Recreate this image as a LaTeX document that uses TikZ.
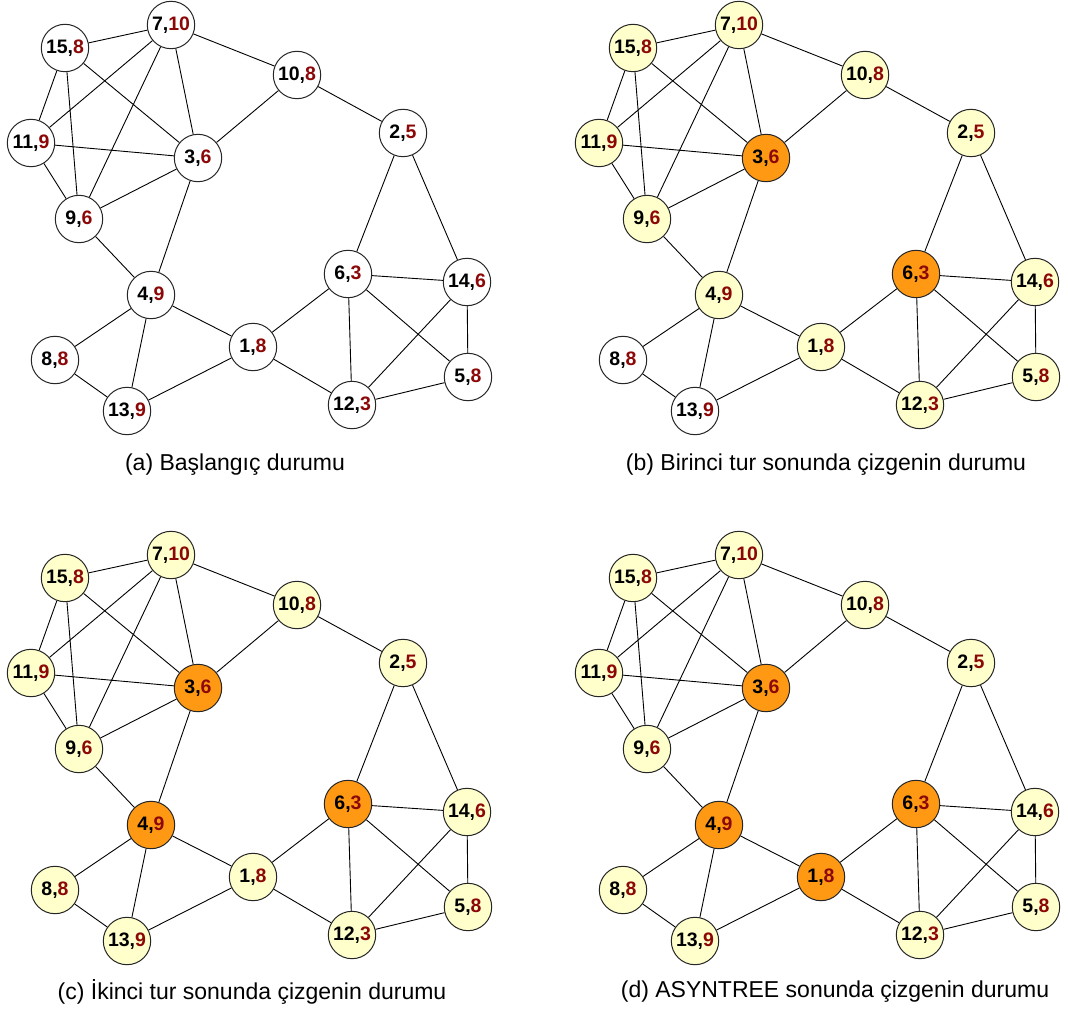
\documentclass[tikz,border=0pt]{standalone}
\usepackage{fontspec}
\setmainfont{Liberation Sans}
\definecolor{numred}{RGB}{140,8,8}
\definecolor{paleyellow}{RGB}{255,255,204}
\definecolor{hotorange}{RGB}{255,153,20}
\newcommand\lbl[2]{#1,\textcolor{numred}{#2}}
\tikzset{
  vtx/.style={circle, draw=black!85, line width=1pt, minimum size=47.4pt,
    inner sep=0pt, font=\bfseries\fontsize{19.5}{20}\selectfont},
  blank/.style={fill=white},
  pale/.style={fill=paleyellow},
  hot/.style={fill=hotorange},
  base/.style={blank},
  c1/.style={}, c2/.style={}, c3/.style={}, c4/.style={}, c5/.style={},
  c6/.style={}, c7/.style={}, c8/.style={}, c9/.style={}, c10/.style={},
  c11/.style={}, c12/.style={}, c13/.style={}, c14/.style={}, c15/.style={},
  edge/.style={draw=black, line width=0.9pt},
  caption/.style={font=\fontsize{23}{24}\selectfont, inner sep=0pt}
}
% One copy of the graph: vertices labelled "id,value", then the edges
\newcommand\drawgraph{%
  \node[vtx,base,c7]  (n7)  at (171,25)  {\lbl{7}{10}};
  \node[vtx,base,c15] (n15) at (65,48)   {\lbl{15}{8}};
  \node[vtx,base,c10] (n10) at (297,75)  {\lbl{10}{8}};
  \node[vtx,base,c11] (n11) at (31,143)  {\lbl{11}{9}};
  \node[vtx,base,c3]  (n3)  at (198,158) {\lbl{3}{6}};
  \node[vtx,base,c2]  (n2)  at (403,133) {\lbl{2}{5}};
  \node[vtx,base,c9]  (n9)  at (79,219)  {\lbl{9}{6}};
  \node[vtx,base,c4]  (n4)  at (151,295) {\lbl{4}{9}};
  \node[vtx,base,c6]  (n6)  at (348,274) {\lbl{6}{3}};
  \node[vtx,base,c14] (n14) at (467,282) {\lbl{14}{6}};
  \node[vtx,base,c8]  (n8)  at (55,360)  {\lbl{8}{8}};
  \node[vtx,base,c1]  (n1)  at (253,347) {\lbl{1}{8}};
  \node[vtx,base,c5]  (n5)  at (468,377) {\lbl{5}{8}};
  \node[vtx,base,c13] (n13) at (127,411) {\lbl{13}{9}};
  \node[vtx,base,c12] (n12) at (352,405) {\lbl{12}{3}};
  \path[edge]
    (n15) -- (n7)  (n15) -- (n11) (n15) -- (n9)  (n15) -- (n3)
    (n7)  -- (n11) (n7)  -- (n9)  (n7)  -- (n3)  (n7)  -- (n10)
    (n11) -- (n3)  (n11) -- (n9)  (n9)  -- (n3)  (n9)  -- (n4)
    (n3)  -- (n4)  (n3)  -- (n10) (n10) -- (n2)  (n2)  -- (n6)
    (n2)  -- (n14) (n4)  -- (n8)  (n4)  -- (n13) (n4)  -- (n1)
    (n8)  -- (n13) (n13) -- (n1)  (n1)  -- (n6)  (n1)  -- (n12)
    (n6)  -- (n14) (n6)  -- (n12) (n6)  -- (n5)  (n14) -- (n12)
    (n14) -- (n5)  (n12) -- (n5);
}
\begin{document}
\begin{tikzpicture}[x=1pt, y=-1pt]
  \useasboundingbox[fill=white] (0,0) rectangle (1068,1014);
  % (a) initial state
  \begin{scope}[name prefix=a-]
    \drawgraph
  \end{scope}
  % (b) after the first round
  \begin{scope}[shift={(568,0)}, name prefix=b-, base/.style={pale},
      c3/.style={hot}, c6/.style={hot}, c8/.style={blank}, c13/.style={blank}]
    \drawgraph
  \end{scope}
  % (c) after the second round
  \begin{scope}[shift={(0,530)}, name prefix=c-, base/.style={pale},
      c3/.style={hot}, c6/.style={hot}, c4/.style={hot}]
    \drawgraph
  \end{scope}
  % (d) after ASYNTREE
  \begin{scope}[shift={(568,530)}, name prefix=d-, base/.style={pale},
      c3/.style={hot}, c6/.style={hot}, c4/.style={hot}, c1/.style={hot}]
    \drawgraph
  \end{scope}
  \node[caption] (capa) at (235,465) {(a) Başlangıç durumu};
  \node[caption] (capb) at (826,465) {(b) Birinci tur sonunda çizgenin durumu};
  \node[caption] (capc) at (252,992) {(c) İkinci tur sonunda çizgenin durumu};
  \node[caption] (capd) at (835,992) {(d) ASYNTREE sonunda çizgenin durumu};
\end{tikzpicture}
\end{document}
